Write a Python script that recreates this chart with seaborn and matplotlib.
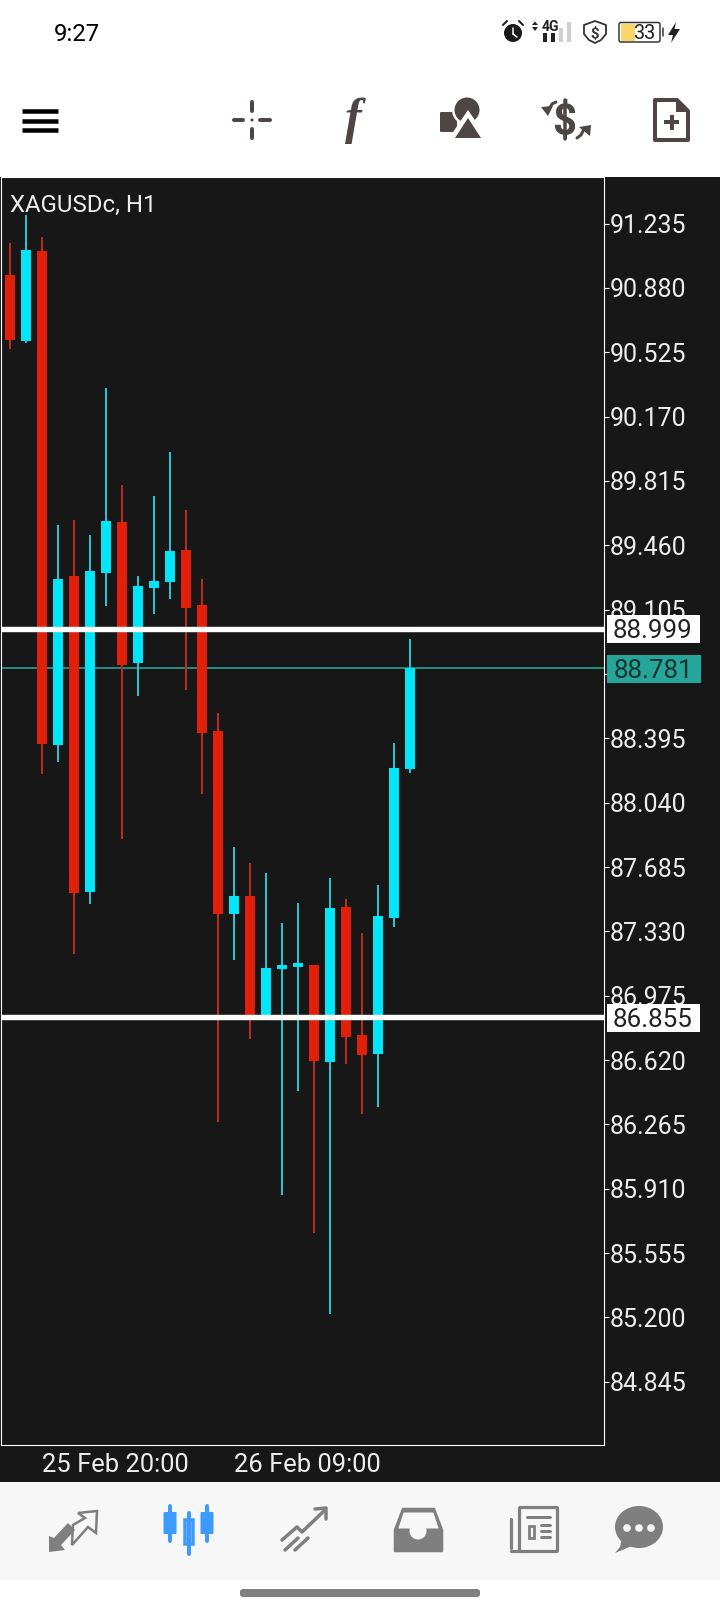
#!/usr/bin/env python3
"""XAGUSDc H1 candlestick chart in a trading app screen."""

import matplotlib
matplotlib.use('Agg')
import matplotlib.pyplot as plt
from matplotlib.patches import Circle, Ellipse, FancyBboxPatch, Polygon, Rectangle
import numpy as np
import pandas as pd
import seaborn as sns

# Candle values, oldest first
HIGH = [91.130, 91.283, 91.162, 89.574, 89.602, 89.519, 90.330, 89.794, 89.293, 89.734, 89.976, 89.657, 89.276,
        88.532, 87.793, 87.705, 87.650, 87.374, 87.485, 87.143, 87.622, 87.507, 87.319, 87.584, 88.367, 88.942]
OPEN = [90.952, 90.587, 91.084, 88.356, 89.293, 87.545, 89.309, 89.591, 88.808, 89.227, 89.260, 89.436, 89.133,
        88.438, 87.424, 87.523, 86.856, 87.121, 87.132, 87.143, 86.608, 87.463, 86.757, 86.652, 87.402, 88.224]
CLOSE = [90.595, 91.090, 88.361, 89.272, 87.540, 89.320, 89.596, 88.802, 89.238, 89.265, 89.431, 89.116, 88.422,
         87.424, 87.523, 86.856, 87.126, 87.143, 87.154, 86.614, 87.457, 86.746, 86.647, 87.413, 88.229, 88.781]
LOW = [90.544, 90.577, 88.196, 88.267, 87.204, 87.479, 89.127, 87.839, 88.631, 89.083, 89.161, 88.664, 88.086,
       86.278, 87.170, 86.735, 86.856, 85.875, 86.448, 85.666, 85.219, 86.597, 86.322, 86.360, 87.352, 88.202]

PRICE_TICKS = [91.235, 90.880, 90.525, 90.170, 89.815, 89.460, 89.105, 88.750, 88.395, 88.040,
               87.685, 87.330, 86.975, 86.620, 86.265, 85.910, 85.555, 85.200, 84.845]
TIME_POSITIONS = [2, 14]
TIME_LABELS = ['25 Feb 20:00', '26 Feb 09:00']
LEVELS = [88.999, 86.855]
LAST_PRICE = 88.781
SYMBOL = 'XAGUSDc, H1'
CLOCK = '9:27'
BATTERY = '33'

# Colours
BG = '#171717'
RED = '#E2200A'
RED_WICK = '#BE2A1C'
CYAN = '#00E5F7'
CYAN_WICK = '#2FBFD2'
TEAL = '#26A69A'
ICON = '#4D4645'
NAV = '#7F7F7F'
NAV_BG = '#F7F7F7'
BLUE = '#3D9BFF'

W, H = 720, 1612
px = lambda v: v * 72 / 100  # pixels to points at dpi 100

sns.set_theme(style='dark')
plt.rcParams['font.family'] = ['Roboto', 'DejaVu Sans']

fig = plt.figure(figsize=(W / 100, H / 100), dpi=100, facecolor='white')

# Pixel-space layer behind and around the chart
ui = fig.add_axes([0, 0, 1, 1], zorder=0)
ui.set_xlim(0, W)
ui.set_ylim(H, 0)
ui.axis('off')
ui.add_patch(Rectangle((0, 177), W, 1482 - 177, color=BG, lw=0))
ui.add_patch(Rectangle((0, 1482), W, 1580 - 1482, color=NAV_BG, lw=0))
ui.add_patch(FancyBboxPatch((243, 1592), 234, 2, boxstyle='round,pad=3', color='#808080', lw=0))

# Chart
ax = fig.add_axes([1 / W, 1 - 1445 / H, 602.5 / W, (1445 - 177) / H], zorder=1)
ax.set_facecolor(BG)

candles = pd.DataFrame({'i': np.arange(len(OPEN)), 'open': OPEN, 'close': CLOSE, 'high': HIGH, 'low': LOW})
candles['rising'] = candles['close'] >= candles['open']
candles['top'] = candles[['open', 'close']].max(axis=1)
candles['bottom'] = candles[['open', 'close']].min(axis=1)

ax.axhline(LAST_PRICE, color=TEAL, lw=px(1.6), zorder=1)
for rising, wick_color, body_color in [(False, RED_WICK, RED), (True, CYAN_WICK, CYAN)]:
    part = candles[candles['rising'] == rising]
    sns.barplot(x=part['i'].values, y=(part['high'] - part['low']).values, bottom=part['low'].values,
                native_scale=True, width=0.125, color=wick_color, saturation=1, ax=ax, zorder=2,
                linewidth=0, errorbar=None)
    sns.barplot(x=part['i'].values, y=(part['top'] - part['bottom']).values, bottom=part['bottom'].values,
                native_scale=True, width=0.625, color=body_color, saturation=1, ax=ax, zorder=3,
                linewidth=0, errorbar=None)
for level in LEVELS:
    ax.axhline(level, color='white', lw=px(5.4), zorder=4)

ax.set_xlim(-0.5625, 37.09)
ax.set_ylim(84.496, 91.492)
ax.set_xlabel('')
ax.set_ylabel('')
ax.grid(False)
for spine in ax.spines.values():
    spine.set_color('white')
    spine.set_linewidth(px(1.1))
ax.yaxis.tick_right()
ax.set_yticks(PRICE_TICKS)
ax.set_yticklabels([f'{t:.3f}' for t in PRICE_TICKS], fontsize=px(25), color='#EDEDED')
ax.set_xticks(TIME_POSITIONS)
ax.set_xticklabels([])
ax.tick_params(axis='y', length=px(5), width=px(1.1), color='white', pad=px(1))
ax.tick_params(axis='x', length=px(4), width=px(1.1), color='white')
for pos, label in zip(TIME_POSITIONS, TIME_LABELS):
    ax.annotate(label, xy=(pos, 0), xycoords=('data', 'axes fraction'), xytext=(0, px(-27)),
                textcoords='offset points', fontsize=px(25.5), color='#EDEDED', va='baseline', ha='left')
ax.text(8.5 / 602.5, 1 - (212 - 177) / (1445 - 177), SYMBOL, transform=ax.transAxes, fontsize=px(24),
        color='#EDEDED', va='baseline', ha='left', zorder=6)

# Price boxes on top of the axis labels
top = fig.add_axes([0, 0, 1, 1], zorder=2)
top.set_xlim(0, W)
top.set_ylim(H, 0)
top.axis('off')
top.patch.set_alpha(0)
top.add_patch(Rectangle((607, 615), 93, 28, color='white', lw=0))
top.add_patch(Rectangle((607, 655), 94, 28, color=TEAL, lw=0))
top.add_patch(Rectangle((607, 1004), 93, 28, color='white', lw=0))
top.text(653, 638, f'{LEVELS[0]:.3f}', fontsize=px(26), color='#222222', ha='center', va='baseline')
top.text(653.5, 678, f'{LAST_PRICE:.3f}', fontsize=px(26), color='#123330', ha='center', va='baseline')
top.text(653, 1027, f'{LEVELS[1]:.3f}', fontsize=px(26), color='#222222', ha='center', va='baseline')


def bar(a, x0, y0, x1, y1, color, lw=4, cap='round'):
    a.plot([x0, x1], [y0, y1], color=color, lw=px(lw), solid_capstyle=cap)


# Status bar
ui.text(54, 41, CLOCK, fontsize=px(24), color='black', ha='left', va='baseline')
ui.add_patch(Circle((513, 33), 9, color='#1A1A1A', lw=0))
bar(ui, 513, 28, 513, 34, 'white', 1.5)
bar(ui, 513, 34, 517, 37, 'white', 1.5)
bar(ui, 503, 25, 507, 21, '#1A1A1A', 2)
bar(ui, 523, 25, 519, 21, '#1A1A1A', 2)
ui.text(542, 31, '4G', fontsize=px(14), color='#222222', ha='left', va='baseline', weight='bold')
ui.add_patch(Polygon([(535, 21.5), (538, 25), (532, 25)], closed=True, color='#222222', lw=0))
ui.add_patch(Polygon([(535, 31), (538, 27), (532, 27)], closed=True, color='#222222', lw=0))
for x, top_y, c in [(545, 33, '#222222'), (553, 33, '#222222'), (561, 28, '#CFCFCF'), (569, 22, '#CFCFCF')]:
    ui.add_patch(Rectangle((x - 2, top_y), 4, 42 - top_y, color=c, lw=0))
ui.add_patch(Polygon([(595, 21), (606, 25), (606, 34), (601, 40), (595, 43), (589, 40), (584, 34), (584, 25)],
                     closed=True, fc='white', ec='#333333', lw=px(1.8), joinstyle='round'))
ui.text(595, 37.5, '$', fontsize=px(15), color='#333333', ha='center', va='baseline', weight='bold')
ui.add_patch(FancyBboxPatch((621, 24.5), 37, 15.5, boxstyle='round,pad=2', fc='white', ec='#333333', lw=px(1.5)))
ui.add_patch(Rectangle((620.5, 24), 14, 16.5, color='#FBD46A', lw=0))
ui.text(644, 39, BATTERY, fontsize=px(20), color='#222222', ha='center', va='baseline')
bar(ui, 663, 28, 663, 36, '#333333', 1.5)
ui.add_patch(Polygon([(676, 22), (668, 35), (673, 35), (671, 43), (680, 29), (674.5, 29)],
                     closed=True, color='#222222', lw=0))

# Top toolbar
for y in (110.5, 120.5, 130):
    bar(ui, 22, y, 58, y, 'black', 4.5, 'butt')
bar(ui, 234, 120, 243, 120, ICON)
bar(ui, 260, 120, 270, 120, ICON)
bar(ui, 252, 102, 252, 111, ICON)
bar(ui, 252, 129, 252, 138, ICON)
ui.add_patch(Circle((252, 120), 1.5, color=ICON, lw=0))
ui.text(353, 133, 'f', fontsize=px(50), color=ICON, ha='center', va='baseline', style='italic', weight='bold',
        family='Liberation Serif')
ui.add_patch(FancyBboxPatch((441, 113), 15, 18, boxstyle='round,pad=1', color=ICON, lw=0))
ui.add_patch(Circle((467, 110), 15, color='white', lw=0))
ui.add_patch(Circle((467, 110), 12.5, color=ICON, lw=0))
ui.add_patch(Polygon([(468, 110), (489, 141), (447, 141)], closed=True, color='white', lw=0))
ui.add_patch(Polygon([(468, 118), (481, 138), (455, 138)], closed=True, color=ICON, lw=0))
ui.text(564.5, 135, '$', fontsize=px(42), color=ICON, ha='center', va='baseline', weight='bold')
bar(ui, 565, 100, 565, 139, ICON, 3.5)
# swap arrows either side of the dollar sign
ui.plot([556, 552, 549], [102, 104, 109], color=ICON, lw=px(3), solid_capstyle='round')
ui.add_patch(Polygon([(541, 107), (553, 106), (548, 116)], closed=True, color=ICON, lw=0))
ui.plot([577, 581, 584], [138, 135, 129], color=ICON, lw=px(3), solid_capstyle='round')
ui.add_patch(Polygon([(579, 127), (591, 125), (590, 136)], closed=True, color=ICON, lw=0))
ui.add_patch(Polygon([(655, 100), (677, 100), (688, 111), (688, 140), (655, 140)], closed=True, fc='white',
                     ec=ICON, lw=px(4), joinstyle='round'))
ui.add_patch(Polygon([(676, 99), (688, 112), (676, 112)], closed=True, color=ICON, lw=0))
bar(ui, 664, 122, 679, 122, ICON, 4, 'butt')
bar(ui, 671.5, 114.5, 671.5, 129.5, ICON, 4, 'butt')

# Bottom navigation
ui.add_patch(Polygon([(73, 1525), (85, 1518), (78, 1513), (97, 1511), (96, 1533), (88, 1527), (72, 1545)],
                     closed=True, fc=NAV_BG, ec=NAV, lw=px(2.5)))
ui.add_patch(Polygon([(49, 1552), (49, 1536), (54, 1538), (68, 1523), (75, 1530), (61, 1545), (65, 1550)],
                     closed=True, color=NAV, lw=0))
for x in (170, 207):
    bar(ui, x, 1506, x, 1541, BLUE, 4)
    ui.add_patch(FancyBboxPatch((x - 5.5, 1513), 11, 20, boxstyle='round,pad=1', color=BLUE, lw=0))
bar(ui, 188.5, 1513, 188.5, 1554, BLUE, 4)
ui.add_patch(Rectangle((184.5, 1520), 8, 24, fc=NAV_BG, ec=BLUE, lw=px(3.5)))
ui.plot([282, 297, 302, 325], [1540, 1527, 1532, 1510], color=NAV, lw=px(3.5), solid_capstyle='round')
ui.plot([315, 326, 326], [1509, 1508, 1519], color=NAV, lw=px(3.5), solid_capstyle='round')
bar(ui, 285, 1550, 298, 1538, NAV, 3.5)
bar(ui, 295, 1550, 308, 1538, NAV, 3.5)
ui.add_patch(Polygon([(403, 1509), (434, 1509), (442, 1530), (442, 1551), (395, 1551), (395, 1530)], closed=True,
                     fc=NAV, ec=NAV, lw=px(2.5), joinstyle='round'))
ui.add_patch(Polygon([(404, 1513), (433, 1513), (438, 1528), (399, 1528)], closed=True, fc=NAV_BG, ec=NAV_BG,
                     lw=px(1), joinstyle='round'))
ui.add_patch(Circle((418, 1531), 8.5, color=NAV_BG, lw=0))
ui.add_patch(FancyBboxPatch((520.5, 1508.5), 36, 42, boxstyle='round,pad=1', fc=NAV_BG, ec=NAV, lw=px(3.2)))
bar(ui, 511, 1519, 511, 1548, NAV, 3.2)
bar(ui, 511, 1551, 520, 1551, NAV, 3.2)
bar(ui, 527, 1517, 550, 1517, NAV, 3, 'round')
ui.add_patch(Rectangle((528.5, 1525.5), 5.5, 12, fc=NAV_BG, ec=NAV, lw=px(2.8)))
for y in (1525, 1531, 1537):
    bar(ui, 541, y, 549.5, y, NAV, 3, 'round')
ui.add_patch(Ellipse((639, 1527), 48, 42, color=NAV, lw=0))
ui.add_patch(Polygon([(622, 1538), (632, 1546), (615, 1553), (620, 1547)], closed=True, color=NAV, lw=0))
for x in (627, 639, 651):
    ui.add_patch(Circle((x, 1528), 3.8, color=NAV_BG, lw=0))

plt.savefig('out.png', dpi=100, facecolor='white')
